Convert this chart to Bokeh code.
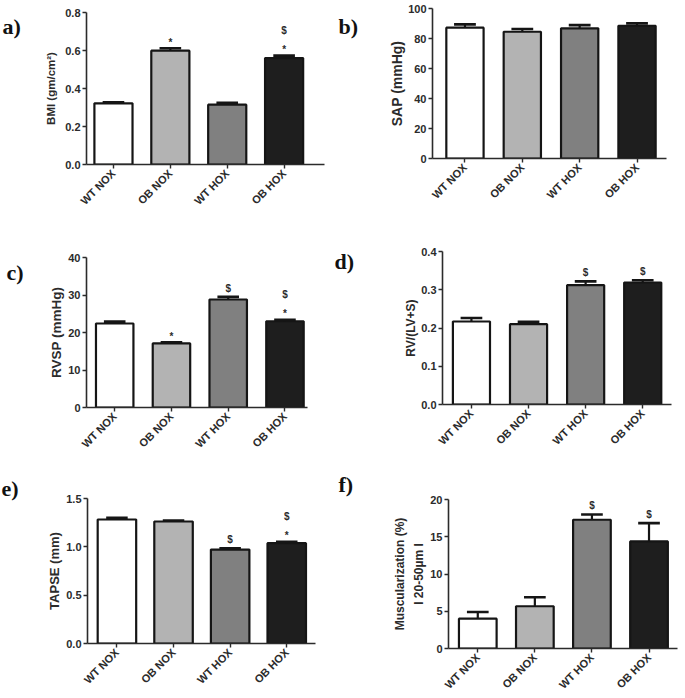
from math import pi
from bokeh.plotting import figure
from bokeh.layouts import column, row
from bokeh.models import FixedTicker, ColumnDataSource, NumeralTickFormatter
from bokeh.core.properties import value
from bokeh.embed import file_html
from bokeh.resources import INLINE

# ---------------- data ----------------
groups = ["WT NOX", "OB NOX", "WT HOX", "OB HOX"]
bar_colors = ["#ffffff", "#b3b3b3", "#808080", "#1e1e1e"]

bmi_mean = [0.322, 0.599, 0.315, 0.560]
bmi_sem = [0.006, 0.013, 0.010, 0.013]
bmi_star = ["", "*", "", "*"]
bmi_dollar = ["", "", "", "$"]
bmi_ticks = [0.0, 0.2, 0.4, 0.6, 0.8]

sap_mean = [87.2, 84.5, 86.8, 88.5]
sap_sem = [2.2, 1.8, 2.1, 1.6]
sap_star = ["", "", "", ""]
sap_dollar = ["", "", "", ""]
sap_ticks = [0, 20, 40, 60, 80, 100]

rvsp_mean = [22.4, 17.1, 28.8, 23.0]
rvsp_sem = [0.5, 0.3, 0.7, 0.4]
rvsp_star = ["", "*", "", "*"]
rvsp_dollar = ["", "", "$", "$"]
rvsp_ticks = [0, 10, 20, 30, 40]

rv_mean = [0.217, 0.210, 0.312, 0.319]
rv_sem = [0.009, 0.006, 0.010, 0.006]
rv_star = ["", "", "", ""]
rv_dollar = ["", "", "$", "$"]
rv_ticks = [0.0, 0.1, 0.2, 0.3, 0.4]

tapse_mean = [1.283, 1.262, 0.972, 1.038]
tapse_sem = [0.017, 0.010, 0.014, 0.014]
tapse_star = ["", "", "", "*"]
tapse_dollar = ["", "", "$", "$"]
tapse_ticks = [0.0, 0.5, 1.0, 1.5]

musc_mean = [4.0, 5.67, 17.28, 14.37]
musc_sem = [0.9, 1.21, 0.71, 2.46]
musc_star = ["", "", "", ""]
musc_dollar = ["", "", "$", "$"]
musc_ticks = [0, 5, 10, 15, 20]

panel_tags = ["a)", "b)", "c)", "d)", "e)", "f)"]

FONT = "Liberation Sans"
INK = "#2b2b2b"


def make_tag(tag, tag_xy, box):
    x0, y0, w, h = box
    t = figure(width=w, height=h, title=None, x_range=(0, w), y_range=(h, 0),
               x_axis_type=None, y_axis_type=None, output_backend="svg",
               toolbar_location=None, min_border=0, frame_align=False)
    t.outline_line_color = None
    t.background_fill_color = "white"
    t.border_fill_color = "white"
    tx, ty = tag_xy
    t.text(x=[tx - x0], y=[ty - y0], text=[tag], text_align="left",
           text_baseline="alphabetic", text_font=value("Liberation Serif"),
           text_font_style="bold", text_font_size="22px", text_color="#111111")
    return t


def make_panel(ylabel, ylabel_size, ylabel_standoff, means, sems,
               stars, dollars, yticks, yfmt, fig_box, frame, xlim, bar_w):
    x0, y0, w, h = fig_box
    fl, ft, fr, fb = frame
    p = figure(width=w, height=h, title=None,
               x_range=xlim, y_range=(yticks[0], yticks[-1]),
               output_backend="svg", toolbar_location=None, frame_align=False,
               min_border_left=fl - x0, min_border_right=x0 + w - fr,
               min_border_top=ft - y0, min_border_bottom=y0 + h - fb)
    p.outline_line_color = None
    p.xgrid.visible = False
    p.ygrid.visible = False
    p.background_fill_color = "white"
    p.border_fill_color = "white"

    xs = list(range(len(groups)))
    tops = [m + s for m, s in zip(means, sems)]
    src = ColumnDataSource(dict(x=xs, top=means, err=tops, color=bar_colors))
    p.vbar(x="x", top="top", bottom=0, width=bar_w, fill_color="color",
           line_color="#151515", line_width=2.2, source=src)
    p.segment(x0="x", y0="top", x1="x", y1="err", line_color="#151515",
              line_width=2.2, source=src)
    cap = 0.19
    p.segment(x0=[x - cap for x in xs], y0=tops, x1=[x + cap for x in xs],
              y1=tops, line_color="#151515", line_width=2.6)

    # significance marks
    mx, my, mt, mo = [], [], [], []
    for i in xs:
        level = 0
        if stars[i]:
            mx.append(i); my.append(tops[i]); mt.append(stars[i]); mo.append(-6.0)
            level = 1
        if dollars[i]:
            mx.append(i); my.append(tops[i]); mt.append(dollars[i])
            mo.append(-8.5 if level == 0 else -25.0)
    if mt:
        msrc = ColumnDataSource(dict(x=mx, y=my, t=mt, o=mo))
        p.text(x="x", y="y", text="t", y_offset="o", source=msrc,
               text_align="center", text_baseline="alphabetic",
               text_font=value(FONT), text_font_style="bold",
               text_font_size="10px", text_color=INK)

    # x axis
    xa = p.xaxis[0]
    xa.ticker = FixedTicker(ticks=xs)
    xa.major_label_overrides = {i: g for i, g in enumerate(groups)}
    xa.major_label_orientation = pi / 4
    xa.major_tick_out = 4
    xa.major_tick_in = 0
    xa.minor_tick_line_color = None
    xa.axis_line_width = 1.6
    xa.axis_line_color = INK
    xa.major_tick_line_color = INK
    xa.major_tick_line_width = 1.4
    xa.major_label_text_font = FONT
    xa.major_label_text_font_style = "bold"
    xa.major_label_text_font_size = "11px"
    xa.major_label_text_color = INK
    xa.major_label_standoff = 3

    # y axis
    ya = p.yaxis[0]
    ya.ticker = FixedTicker(ticks=yticks)
    ya.formatter = NumeralTickFormatter(format=yfmt)
    ya.major_tick_out = 4
    ya.major_tick_in = 0
    ya.minor_tick_line_color = None
    ya.axis_line_width = 1.6
    ya.axis_line_color = INK
    ya.major_tick_line_color = INK
    ya.major_tick_line_width = 1.4
    ya.major_label_text_font = FONT
    ya.major_label_text_font_style = "bold"
    ya.major_label_text_font_size = "11px"
    ya.major_label_text_color = INK
    ya.major_label_standoff = 2
    ya.axis_label = ylabel
    ya.axis_label_text_font = FONT
    ya.axis_label_text_font_style = "bold"
    ya.axis_label_text_font_size = ylabel_size
    ya.axis_label_text_color = INK
    ya.axis_label_text_line_height = 1.35
    ya.axis_label_standoff = ylabel_standoff
    return p


# row 1
ta = make_tag(panel_tags[0], (2, 26), (0, 0, 24, 240))
pa = make_panel("BMI (gm/cm²)", "11.5px", 5,
                bmi_mean, bmi_sem, bmi_star, bmi_dollar, bmi_ticks, "0.0",
                (24, 0, 306, 240), (86, 12, 324, 164), (-0.474, 3.71), 0.67)
tb = make_tag(panel_tags[1], (338, 26), (330, 0, 38, 240))
pb = make_panel("SAP (mmHg)", "14px", 0,
                sap_mean, sap_sem, sap_star, sap_dollar, sap_ticks, "0",
                (368, 0, 317, 240), (432, 8, 666, 158), (-0.566, 3.514), 0.65)
# row 2
tc = make_tag(panel_tags[2], (6, 272), (0, 240, 28, 230))
pc = make_panel("RVSP (mmHg)", "13.5px", 1,
                rvsp_mean, rvsp_sem, rvsp_star, rvsp_dollar, rvsp_ticks, "0",
                (28, 240, 302, 230), (86, 257, 307, 407), (-0.497, 3.397), 0.66)
td = make_tag(panel_tags[3], (334, 261), (330, 240, 26, 230))
pd_ = make_panel("RV/(LV+S)", "12px", 0,
                 rv_mean, rv_sem, rv_star, rv_dollar, rv_ticks, "0.0",
                 (356, 240, 329, 230), (442, 251, 671, 404), (-0.507, 3.504), 0.65)
# row 3
te = make_tag(panel_tags[4], (1, 488), (0, 470, 28, 228))
pe = make_panel("TAPSE (mm)", "13px", 1,
                tapse_mean, tapse_sem, tapse_star, tapse_dollar, tapse_ticks, "0.0",
                (28, 470, 302, 228), (87, 498, 315, 643), (-0.52, 3.508), 0.68)
tf = make_tag(panel_tags[5], (338, 484), (330, 470, 32, 228))
pf = make_panel("Muscularization (%)\nI 20-50µm I", "12px", 1,
                musc_mean, musc_sem, musc_star, musc_dollar, musc_ticks, "0",
                (362, 470, 323, 228), (448, 499, 677, 648), (-0.513, 3.499), 0.66)

layout = column(row(ta, pa, tb, pb), row(tc, pc, td, pd_), row(te, pe, tf, pf))
open("out.html", "w").write(file_html(layout, INLINE))
